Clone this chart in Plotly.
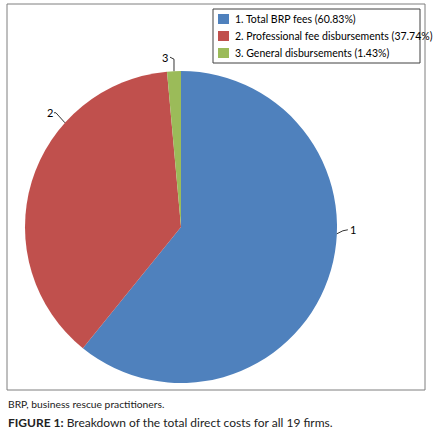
import math
import plotly.graph_objects as go

# ---- data ----
slice_ids = ["1", "2", "3"]
categories = ["Total BRP fees", "Professional fee disbursements", "General disbursements"]
shares = [60.83, 37.74, 1.43]
colors = ["#4F81BD", "#C0504D", "#9BBB59"]

W, H = 436, 433
CX, CY, R = 181, 227, 156  # pie centre / radius in pixels
FONT = "Lato"


def px(x):
    return x / W


def py(y):
    return 1 - y / H


legend_names = [f"{i}. {c} ({v:.2f}%)" for i, c, v in zip(slice_ids, categories, shares)]

fig = go.Figure(go.Pie(
    labels=legend_names,
    values=shares,
    sort=False,
    direction="clockwise",
    rotation=0,
    marker=dict(colors=colors, line=dict(width=0)),
    textinfo="none",
    hoverinfo="label+percent",
    showlegend=False,
    domain=dict(x=[px(CX - R), px(CX + R)], y=[py(CY + R), py(CY - R)]),
))

total = sum(shares)
cum = 0
mids = []
for v in shares:
    mids.append((cum + v / 2) / total * 360)
    cum += v

shapes = []
annotations = []


def edge(a):
    rad = math.radians(a)
    return CX + R * math.sin(rad), CY - R * math.cos(rad)

# 1: right side
ex, ey = edge(mids[0] - 17)
shapes.append(dict(type="path", xref="paper", yref="paper",
                   path=f"M {px(ex)},{py(ey)} L {px(ex + 6)},{py(ey - 3)} L {px(ex + 11)},{py(ey - 4)}",
                   line=dict(color="#000", width=0.8)))
annotations.append(dict(x=px(ex + 11), y=py(ey - 4), text=slice_ids[0], xanchor="left"))
# 2: upper left
ex, ey = edge(mids[1] + 25)
shapes.append(dict(type="path", xref="paper", yref="paper",
                   path=f"M {px(ex)},{py(ey)} L {px(ex - 9)},{py(ey - 10)} L {px(ex - 11)},{py(ey - 10)}",
                   line=dict(color="#000", width=0.8)))
annotations.append(dict(x=px(ex - 10), y=py(ey - 10), text=slice_ids[1], xanchor="right"))
# 3: top
ex, ey = edge(mids[2])
shapes.append(dict(type="path", xref="paper", yref="paper",
                   path=f"M {px(ex)},{py(ey)} L {px(ex)},{py(ey - 12)} L {px(ex - 4)},{py(ey - 14)}",
                   line=dict(color="#000", width=0.8)))
annotations.append(dict(x=px(ex - 4), y=py(ey - 14), text=slice_ids[2], xanchor="right"))
for a in annotations:
    a.update(xref="paper", yref="paper", showarrow=False, yanchor="middle",
             font=dict(family=FONT, size=11, color="#000"))

# legend box (custom, to match the source layout)
LX0, LY0, LX1, LY1 = 213, 9, 420, 63
shapes.append(dict(type="rect", xref="paper", yref="paper",
                   x0=px(LX0), x1=px(LX1), y0=py(LY1), y1=py(LY0),
                   line=dict(color="#404040", width=1), fillcolor="white"))
for k, (name, col) in enumerate(zip(legend_names, colors)):
    yc = 19 + 17 * k
    shapes.append(dict(type="rect", xref="paper", yref="paper",
                       x0=px(218), x1=px(229), y0=py(yc + 5), y1=py(yc - 5),
                       line=dict(width=0), fillcolor=col))
    annotations.append(dict(x=px(233), y=py(yc), xref="paper", yref="paper", text=name,
                            showarrow=False, xanchor="left", yanchor="middle",
                            font=dict(family=FONT, size=10.5, color="#000")))

# outer frame
shapes.append(dict(type="rect", xref="paper", yref="paper",
                   x0=px(7), x1=px(425), y0=py(390), y1=py(4),
                   line=dict(color="#7f7f7f", width=1)))

annotations.append(dict(x=px(6), y=py(404), xref="paper", yref="paper",
                        text="BRP, business rescue practitioners.", showarrow=False,
                        xanchor="left", yanchor="middle",
                        font=dict(family=FONT, size=10.3, color="#1a1a1a")))
annotations.append(dict(x=px(6), y=py(422), xref="paper", yref="paper",
                        text="<b>FIGURE 1:</b> Breakdown of the total direct costs for all 19 firms.",
                        showarrow=False, xanchor="left", yanchor="middle",
                        font=dict(family=FONT, size=12, color="#222222")))

fig.update_layout(
    width=W, height=H,
    margin=dict(l=0, r=0, t=0, b=0),
    paper_bgcolor="white",
    plot_bgcolor="white",
    showlegend=False,
    shapes=shapes,
    annotations=annotations,
)

fig.write_html("out.html", config={"displayModeBar": False},
               post_script="document.body.style.margin='0';document.body.style.overflow='hidden';")
